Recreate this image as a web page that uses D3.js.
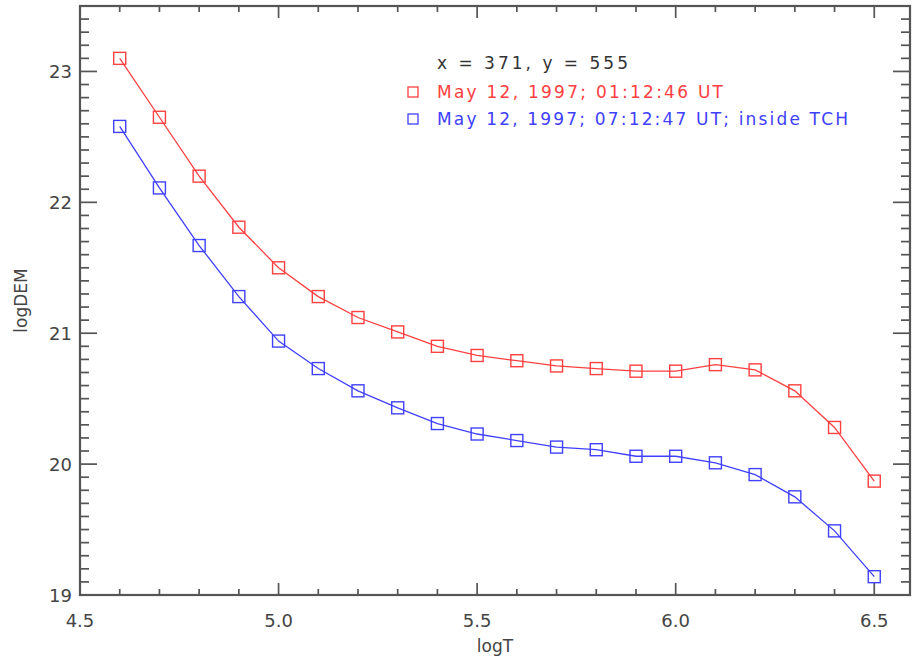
<!DOCTYPE html>
<html>
<head>
<meta charset="utf-8">
<script src="https://cdn.jsdelivr.net/npm/d3@7"></script>
<style>
  html, body { margin: 0; padding: 0; background: #fff; }
  svg { display: block; }
  text { font-family: "DejaVu Sans", "Liberation Sans", Arial, sans-serif; }
</style>
</head>
<body>
<svg id="chart" width="914" height="662"></svg>
<script>
// Temperature grid (log T) shared by both DEM curves
const logT = [4.6, 4.7, 4.8, 4.9, 5.0, 5.1, 5.2, 5.3, 5.4, 5.5,
              5.6, 5.7, 5.8, 5.9, 6.0, 6.1, 6.2, 6.3, 6.4, 6.5];

// log DEM, 01:12:46 UT
const demEarly = [23.10, 22.65, 22.20, 21.81, 21.50, 21.28, 21.12, 21.01, 20.90, 20.83,
                  20.79, 20.75, 20.73, 20.71, 20.71, 20.76, 20.72, 20.56, 20.28, 19.87];

// log DEM, 07:12:47 UT (inside TCH)
const demLate = [22.58, 22.11, 21.67, 21.28, 20.94, 20.73, 20.56, 20.43, 20.31, 20.23,
                 20.18, 20.13, 20.11, 20.06, 20.06, 20.01, 19.92, 19.75, 19.49, 19.14];

const xMajorTicks = [4.5, 5.0, 5.5, 6.0, 6.5];
const xTickLabels = ["4.5", "5.0", "5.5", "6.0", "6.5"];
const yMajorTicks = [19, 20, 21, 22, 23];
const yTickLabels = ["19", "20", "21", "22", "23"];

const headerText = "x = 371, y = 555";
const seriesNames = ["May 12, 1997; 01:12:46 UT", "May 12, 1997; 07:12:47 UT; inside TCH"];
const seriesColors = ["#ff4040", "#4040ff"];

const xTitle = "logT";
const yTitle = "logDEM";

// Plot frame
const plotLeft = 80, plotRight = 910, plotTop = 6, plotBottom = 595;
const axisColor = "#555555";
const textColor = "#444444";

const x = d3.scaleLinear().domain([4.5, 6.59]).range([plotLeft, plotRight]);
const y = d3.scaleLinear().domain([19, 23.5]).range([plotBottom, plotTop]);

const svg = d3.select("#chart");

// Minor tick positions every 0.1
const xMinor = d3.range(45, 66).map(v => v / 10).filter(v => !xMajorTicks.some(m => Math.abs(m - v) < 1e-9));
const yMinor = d3.range(190, 236).map(v => v / 10).filter(v => !yMajorTicks.some(m => Math.abs(m - v) < 1e-9));

const xMajLen = 12, xMinLen = 6, yMajLen = 17, yMinLen = 9;

const ticks = svg.append("g").attr("stroke", axisColor).attr("stroke-width", 1.7);

// bottom and top axes: ticks point inward
function xTicks(vals, len) {
  ticks.selectAll(null).data(vals).join("line")
    .attr("x1", d => x(d)).attr("x2", d => x(d))
    .attr("y1", plotBottom).attr("y2", plotBottom - len);
  ticks.selectAll(null).data(vals).join("line")
    .attr("x1", d => x(d)).attr("x2", d => x(d))
    .attr("y1", plotTop).attr("y2", plotTop + len);
}
xTicks(xMajorTicks, xMajLen);
xTicks(xMinor, xMinLen);

// left and right axes
function yTicks(vals, len) {
  ticks.selectAll(null).data(vals).join("line")
    .attr("x1", plotLeft).attr("x2", plotLeft + len)
    .attr("y1", d => y(d)).attr("y2", d => y(d));
  ticks.selectAll(null).data(vals).join("line")
    .attr("x1", plotRight).attr("x2", plotRight - len)
    .attr("y1", d => y(d)).attr("y2", d => y(d));
}
yTicks(yMajorTicks, yMajLen);
yTicks(yMinor, yMinLen);

// frame
svg.append("rect")
  .attr("x", plotLeft).attr("y", plotTop)
  .attr("width", plotRight - plotLeft).attr("height", plotBottom - plotTop)
  .attr("fill", "none").attr("stroke", axisColor).attr("stroke-width", 2.2);

// tick labels
svg.append("g").selectAll("text").data(xMajorTicks).join("text")
  .attr("x", d => x(d)).attr("y", 627)
  .attr("text-anchor", "middle")
  .attr("font-size", 18)
  .attr("fill", textColor)
  .text((d, i) => xTickLabels[i]);

svg.append("g").selectAll("text").data(yMajorTicks).join("text")
  .attr("x", 72).attr("y", d => y(d) + 7)
  .attr("text-anchor", "end")
  .attr("font-size", 18)
  .attr("fill", textColor)
  .text((d, i) => yTickLabels[i]);

// axis titles
svg.append("text")
  .attr("x", (plotLeft + plotRight) / 2).attr("y", 652)
  .attr("text-anchor", "middle").attr("font-size", 17)
  .attr("fill", textColor).text(xTitle);

svg.append("text")
  .attr("transform", `translate(27,${(plotTop + plotBottom) / 2}) rotate(-90)`)
  .attr("text-anchor", "middle").attr("font-size", 17)
  .attr("fill", textColor).text(yTitle);

// curves with square markers
const line = d3.line().x(d => x(d[0])).y(d => y(d[1]));
const series = [demEarly, demLate];
const msize = 12;

series.forEach((vals, si) => {
  const pts = logT.map((t, i) => [t, vals[i]]);
  const g = svg.append("g");
  g.append("path")
    .attr("d", line(pts))
    .attr("fill", "none")
    .attr("stroke", seriesColors[si])
    .attr("stroke-width", 1.3);
  g.selectAll("rect").data(pts).join("rect")
    .attr("x", d => x(d[0]) - msize / 2)
    .attr("y", d => y(d[1]) - msize / 2)
    .attr("width", msize).attr("height", msize)
    .attr("fill", "none")
    .attr("stroke", seriesColors[si])
    .attr("stroke-width", 1.4);
});

// legend
const legX = 437;
svg.append("text")
  .attr("x", legX).attr("y", 69)
  .attr("font-size", 17)
  .attr("textLength", 191).attr("lengthAdjust", "spacing")
  .attr("fill", "#333").text(headerText);

const legRows = [98, 125];
const legLens = [286, 411];
seriesNames.forEach((name, i) => {
  svg.append("rect")
    .attr("x", 413 - 5).attr("y", legRows[i] - 6 - 5)
    .attr("width", 10).attr("height", 10)
    .attr("fill", "none").attr("stroke", seriesColors[i]).attr("stroke-width", 1.3);
  svg.append("text")
    .attr("x", legX).attr("y", legRows[i])
    .attr("font-size", 17)
    .attr("textLength", legLens[i]).attr("lengthAdjust", "spacing")
    .attr("fill", seriesColors[i]).text(name);
});
</script>
</body>
</html>
